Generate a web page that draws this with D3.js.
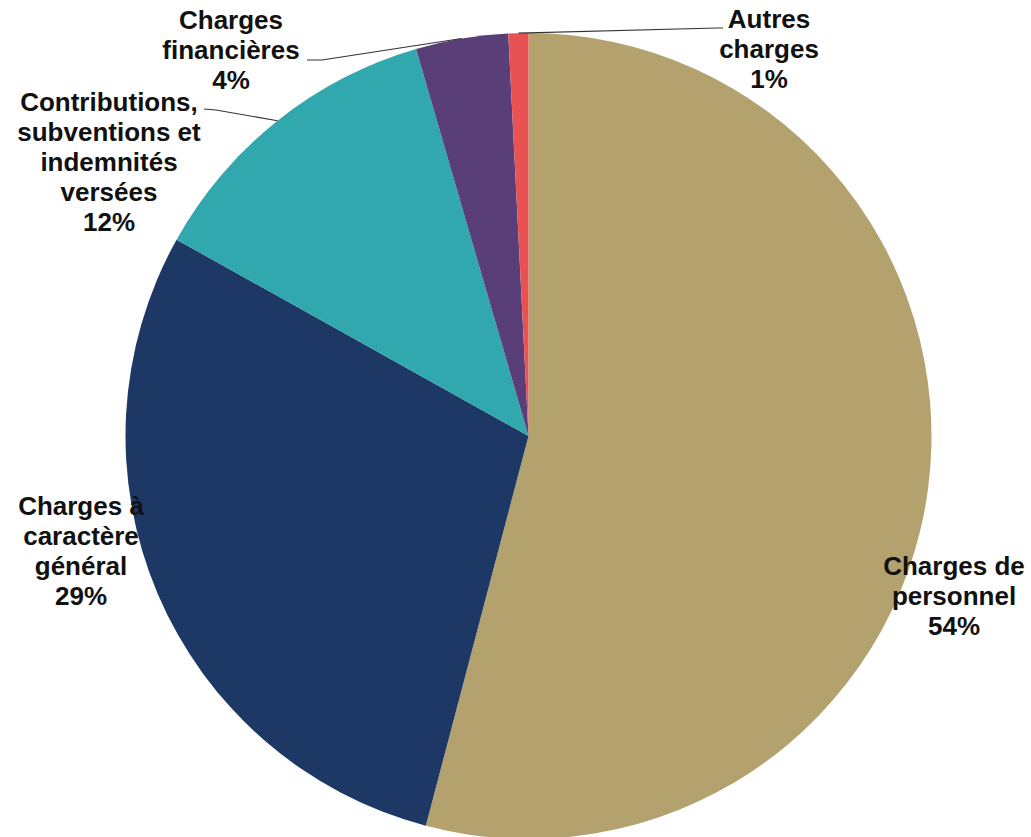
<!DOCTYPE html>
<html>
<head>
<meta charset="utf-8">
<script src="https://cdn.jsdelivr.net/npm/d3@7"></script>
<style>
  html, body { margin: 0; padding: 0; background: #ffffff; }
  svg { display: block; }
  text { font-family: "Liberation Sans", Arial, sans-serif; font-weight: bold; font-size: 26px; fill: #111111; }
</style>
</head>
<body>
<svg id="chart" width="1031" height="837"></svg>
<script>
// ---- data ----
const categories = [
  "Charges de personnel",
  "Charges à caractère général",
  "Contributions, subventions et indemnités versées",
  "Charges financières",
  "Autres charges"
];
const values = [54.1, 29.0, 12.4, 3.7, 0.8];
const labelLines = [
  ["Charges de", "personnel"],
  ["Charges à", "caractère", "général"],
  ["Contributions,", "subventions et", "indemnités", "versées"],
  ["Charges", "financières"],
  ["Autres", "charges"]
];
const colors = ["#B3A16E", "#1D3864", "#31A8AD", "#5A3E78", "#E85252"];

// ---- layout (positions, not data) ----
const width = 1031, height = 837;
const cx = 528.5, cy = 436, radius = 403;
const labelLayout = [
  { x: 954, y: 575, leader: null },
  { x: 81,  y: 515, leader: null },
  { x: 109, y: 111, leader: { from: [204, 109], elbow: [216, 110], frac: 0.5 } },
  { x: 231, y: 29,  leader: { from: [307, 60],  elbow: [322, 60],  frac: 0.5 } },
  { x: 769, y: 28,  leader: { from: [723, 28],  elbow: [717, 28],  frac: 0.5 } }
];
const lineH = 30;

const svg = d3.select("#chart");
const g = svg.append("g").attr("transform", `translate(${cx},${cy})`);

const pie = d3.pie().sort(null).value(d => d);
const arcs = pie(values);
const arc = d3.arc().innerRadius(0).outerRadius(radius);

g.selectAll("path.slice")
  .data(arcs)
  .join("path")
  .attr("class", "slice")
  .attr("d", arc)
  .attr("fill", (d, i) => colors[i]);

const total = d3.sum(values);

// leader lines
arcs.forEach((a, i) => {
  const L = labelLayout[i].leader;
  if (!L) return;
  const ang = a.startAngle + (a.endAngle - a.startAngle) * L.frac;
  const ex = cx + radius * Math.sin(ang);
  const ey = cy - radius * Math.cos(ang);
  svg.append("polyline")
    .attr("points", [L.from, L.elbow, [ex, ey]].map(p => p.join(",")).join(" "))
    .attr("fill", "none")
    .attr("stroke", "#333333")
    .attr("stroke-width", 1.1);
});

// labels
arcs.forEach((a, i) => {
  const lay = labelLayout[i];
  const lines = labelLines[i].concat([Math.round(values[i] / total * 100) + "%"]);
  const t = svg.append("text")
    .attr("text-anchor", "middle")
    .attr("x", lay.x)
    .attr("y", lay.y);
  lines.forEach((ln, k) => {
    t.append("tspan")
      .attr("x", lay.x)
      .attr("y", lay.y + k * lineH)
      .text(ln);
  });
});
</script>
</body>
</html>
